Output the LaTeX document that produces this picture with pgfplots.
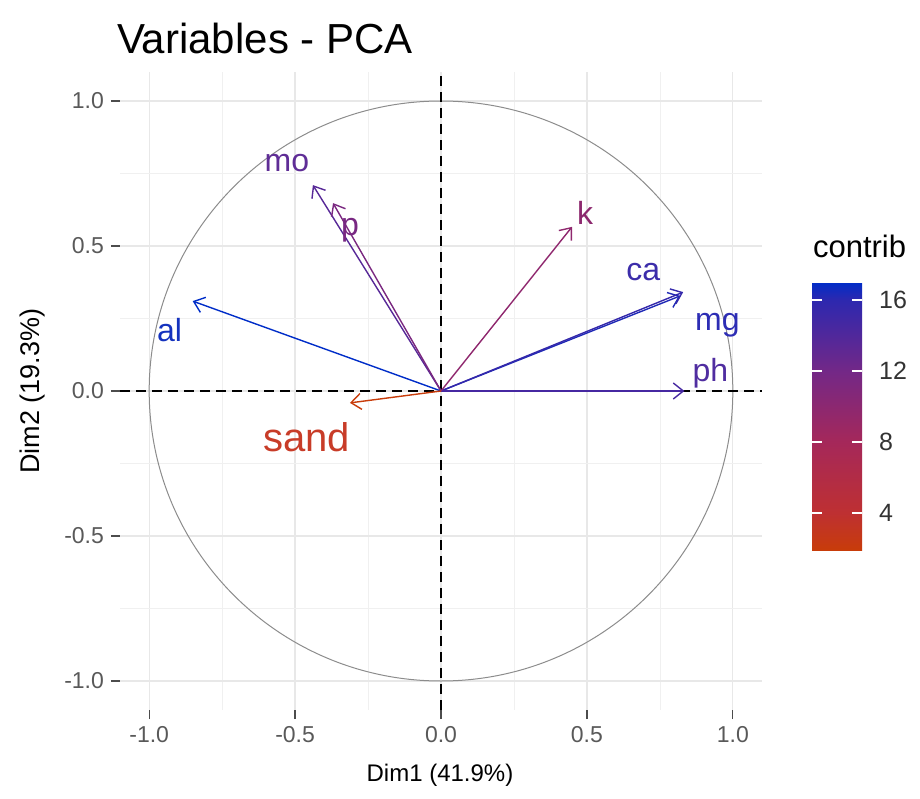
\documentclass[border=0pt]{standalone}
\usepackage{fontspec}
\setmainfont{Liberation Sans}
\usepackage{pgfplots}
\pgfplotsset{compat=1.18}
\usepackage{pgfplotstable}
\usetikzlibrary{arrows.meta}

% coordinates of the variables on Dim1/Dim2 and their contribution
\pgfplotstableread{
var  dim1    dim2    contrib
al   -0.851  0.310   17.0
mg    0.820  0.328   16.3
ca    0.830  0.341   15.6
ph    0.834  0.000   14.6
mo   -0.439  0.710   13.6
p    -0.370  0.648   11.4
k     0.449  0.566   9.8
sand -0.312 -0.041   1.9
}\pcavars

\definecolor{cal}{RGB}{20,50,190}
\definecolor{cmg}{RGB}{45,45,180}
\definecolor{cca}{RGB}{60,45,170}
\definecolor{cph}{RGB}{80,45,160}
\definecolor{cmo}{RGB}{95,45,150}
\definecolor{cp}{RGB}{120,40,130}
\definecolor{ck}{RGB}{140,40,110}
\definecolor{csand}{RGB}{200,60,40}

\begin{document}
\begin{tikzpicture}
\useasboundingbox (-60pt,-44pt) rectangle (400pt,355pt);
\begin{axis}[
  at={(0,0)}, anchor=south west,
  width=321pt, height=319pt, scale only axis,
  xmin=-1.1, xmax=1.1, ymin=-1.1, ymax=1.1,
  xtick={-1,-0.5,0,0.5,1}, ytick={-1,-0.5,0,0.5,1},
  xticklabels={-1.0,-0.5,0.0,0.5,1.0},
  yticklabels={-1.0,-0.5,0.0,0.5,1.0},
  minor tick num=1,
  grid=both,
  major grid style={color=black!9, line width=0.6pt},
  minor grid style={color=black!6, line width=0.35pt},
  axis line style={draw=none},
  xtick pos=left, ytick pos=left,
  tick align=outside,
  major tick length=4.5pt, minor tick length=0pt,
  major tick style={black!70, line width=0.6pt},
  ticklabel style={font=\fontsize{11.5}{13}\selectfont, text=black!65},
  colormap={contribmap}{rgb255(0pt)=(200,60,10); rgb255(210pt)=(190,48,50);
    rgb255(610pt)=(165,40,90); rgb255(1010pt)=(115,40,135);
    rgb255(1410pt)=(45,40,175); rgb255(1510pt)=(0,45,200)},
  point meta min=1.9, point meta max=17,
  colorbar,
  colorbar/width=25pt,
  colorbar style={
    at={(parent axis.south west)}, anchor=south west,
    xshift=337.5pt, yshift=80pt,
    height=134pt, scale only axis,
    ytick={4,8,12,16}, yticklabels={4,8,12,16}, minor tick num=0,
    tick align=inside, yticklabel pos=right,
    major tick length=5pt,
    ytick style={white, line width=0.8pt},
    axis line style={draw=none},
    yticklabel style={font=\fontsize{12.5}{14}\selectfont, text=black!80, xshift=5pt},
  },
  clip=false,
]
\draw[black!45, line width=0.5pt] (axis cs:0,0) ellipse [x radius=1, y radius=1];
\draw[black, line width=0.7pt, dash pattern=on 5pt off 3pt] (axis cs:0,-1.1) -- (axis cs:0,1.1);
\draw[black, line width=0.7pt, dash pattern=on 5pt off 3pt] (axis cs:-1.1,0) -- (axis cs:1.1,0);

\addplot[
  point meta=explicit,
  quiver={u=\thisrow{dim1}, v=\thisrow{dim2}, colored=mapped color,
    every arrow/.append style={line width=0.7pt, -{Straight Barb[length=5pt, width=8pt]}}},
] table[x expr=0, y expr=0, meta=contrib] {\pcavars};

\node[text=cmo, font=\fontsize{16}{18}\selectfont] at (axis cs:-0.528,0.786) {mo};
\node[text=cp, font=\fontsize{16}{18}\selectfont] at (axis cs:-0.312,0.555) {p};
\node[text=cal, font=\fontsize{16}{18}\selectfont] at (axis cs:-0.930,0.210) {al};
\node[text=csand, font=\fontsize{20}{22}\selectfont] at (axis cs:-0.460,-0.159) {sand};
\node[text=ck, font=\fontsize{16}{18}\selectfont] at (axis cs:0.494,0.614) {k};
\node[text=cca, font=\fontsize{16}{18}\selectfont] at (axis cs:0.693,0.410) {ca};
\node[text=cmg, font=\fontsize{16}{18}\selectfont] at (axis cs:0.947,0.228) {mg};
\node[text=cph, font=\fontsize{16}{18}\selectfont] at (axis cs:0.923,0.062) {ph};
\end{axis}
% white ticks on the left edge of the colour bar (bar: x 346pt, y 80pt to 214pt)
\foreach \yy in {98.6pt,134.1pt,169.6pt,205.2pt}
  \draw[white, line width=0.8pt] (346pt,\yy) -- (351pt,\yy);
\node[anchor=base west, font=\fontsize{21}{25}\selectfont] at (-5pt,328pt) {Variables - PCA};
\node[font=\fontsize{12}{14}\selectfont] at (160pt,-32.5pt) {Dim1 (41.9\%)};
\node[rotate=90, font=\fontsize{13.5}{15}\selectfont] at (-43.5pt,159.5pt) {Dim2 (19.3\%)};
\node[anchor=base west, font=\fontsize{15.5}{18}\selectfont] at (343pt,226pt) {contrib};
\end{tikzpicture}
\end{document}
